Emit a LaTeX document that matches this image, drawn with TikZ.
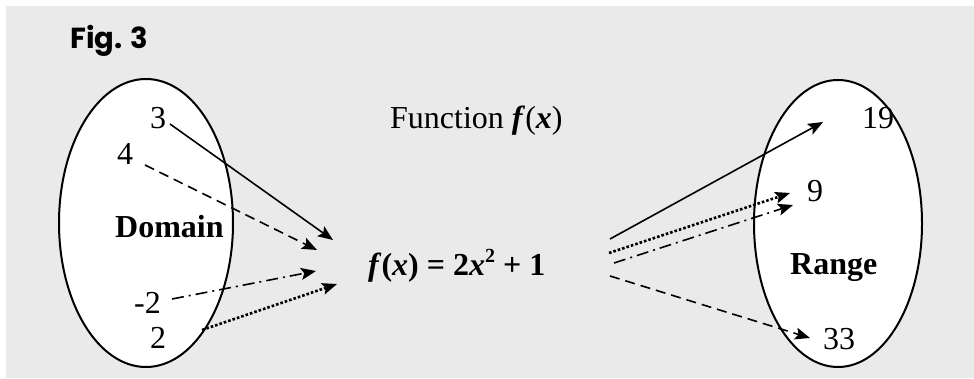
\documentclass[tikz,border=0pt]{standalone}
\usepackage{fontspec}
\setmainfont{Liberation Serif}
\newfontfamily\figfont{Poppins}
\usetikzlibrary{arrows.meta}
\definecolor{bggray}{HTML}{EAEAEA}
\tikzset{
  lbl/.style={inner sep=0pt, anchor=base west, font=\fontsize{32}{38}\selectfont},
  blbl/.style={lbl, font=\fontsize{32}{38}\selectfont\bfseries},
  setell/.style={draw=black, fill=white, line width=2pt},
  conn/.style={line width=1.6pt, -{Stealth[length=15pt,width=12pt,inset=3pt]}},
  solidc/.style={conn},
  dashc/.style={conn, dash pattern=on 10pt off 6pt},
  dashdotc/.style={conn, dash pattern=on 12pt off 5pt on 2pt off 5pt},
  dotc/.style={conn, line width=2.6pt, dash pattern=on 2.6pt off 2pt, -{Stealth[length=15pt,width=12pt,inset=3pt,line width=0pt]}},
}
\begin{document}
\begin{tikzpicture}[x=1pt,y=-1pt]
\useasboundingbox (0,0) rectangle (974,379);
\fill[bggray] (6,6) rectangle (974,378);
% ellipses
\draw[setell] (146,223) ellipse [x radius=87, y radius=144];
\draw[setell] (838,223.5) ellipse [x radius=84, y radius=143.5];
% labels
\node[inner sep=0pt, anchor=base west, font=\figfont\bfseries\fontsize{29}{35}\selectfont] (fig) at (70,49) {Fig. 3};
\node[lbl] (func) at (390,129) {Function \textbf{\textit{f}}(\textbf{\textit{x}})};
\node[lbl] (d3) at (150,129) {3};
\node[lbl] (d4) at (117,165) {4};
\node[blbl] (dom) at (115,238) {Domain};
\node[lbl] (dm2) at (134,313) {-2};
\node[lbl] (d2) at (150,348) {2};
\node[lbl] (r19) at (862,129) {19};
\node[lbl] (r9) at (807,202) {9};
\node[blbl] (ran) at (790,275) {Range};
\node[lbl] (r33) at (823,349) {33};
\node[blbl] (form) at (368,276) {\textit{f}(\textit{x}) = 2\textit{x}\raisebox{13pt}{\fontsize{20}{20}\selectfont 2} + 1};
% connector end points
\coordinate (s3) at (170,124);   \coordinate (t3) at (333,240);
\coordinate (s4) at (145,165);   \coordinate (t4) at (317,250);
\coordinate (sm2) at (172,299);  \coordinate (tm2) at (316,271);
\coordinate (s2) at (202,330);   \coordinate (t2) at (337,284);
\coordinate (o19) at (610,239);  \coordinate (e19) at (823,122);
\coordinate (o9a) at (609,253);  \coordinate (e9a) at (790,193);
\coordinate (o9b) at (614,263);  \coordinate (e9b) at (793,205);
\coordinate (o33) at (610,276);  \coordinate (e33) at (810,338);
% connectors
\draw[solidc] (s3) -- (t3);
\draw[dashc] (s4) -- (t4);
\draw[dashdotc] (sm2) -- (tm2);
\draw[dotc] (s2) -- (t2);
\draw[solidc] (o19) -- (e19);
\draw[dotc] (o9a) -- (e9a);
\draw[dashdotc] (o9b) -- (e9b);
\draw[dashc] (o33) -- (e33);
\end{tikzpicture}
\end{document}
